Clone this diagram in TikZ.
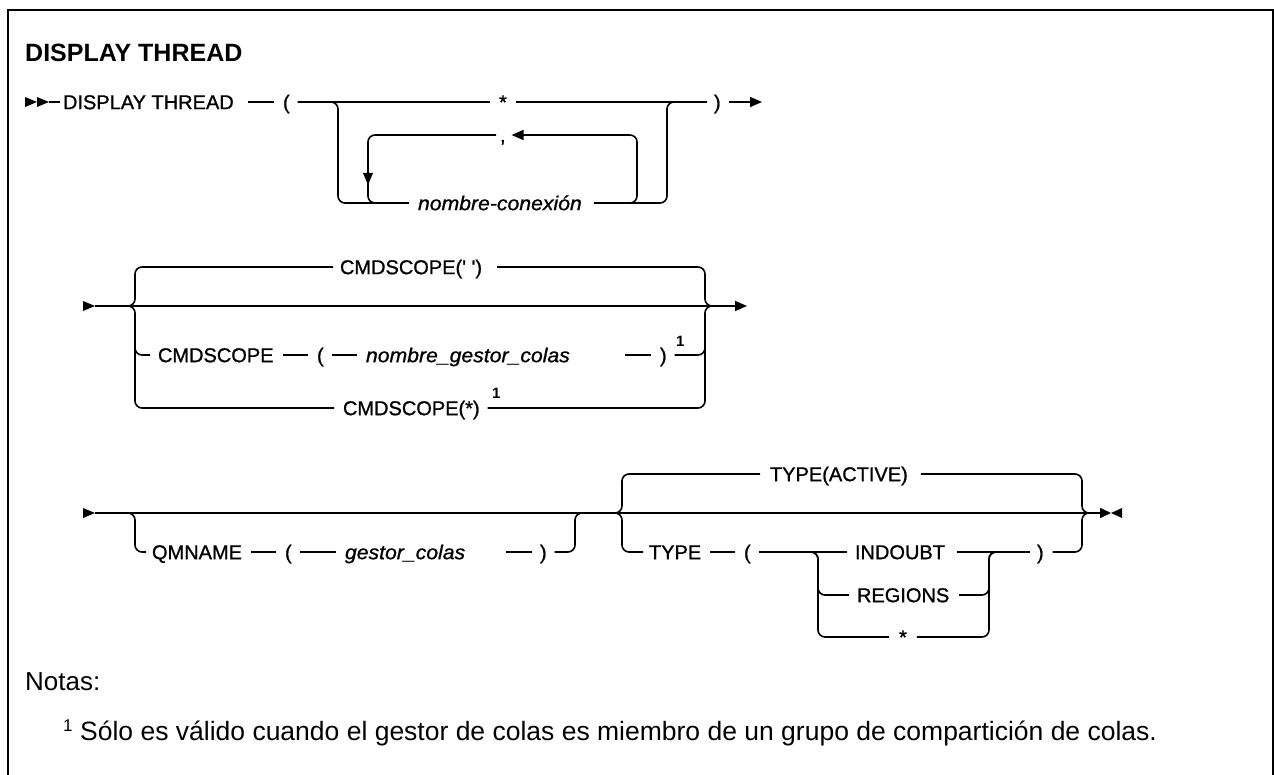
\documentclass[tikz,border=0pt]{standalone}
\usepackage{fontspec}
\setmainfont{Liberation Sans}
\newfontfamily\diafont[FakeBold=1.0]{Liberation Sans}
\newfontfamily\varfont[FakeBold=1.0,FakeStretch=1.06]{Liberation Sans}
\usetikzlibrary{arrows.meta}
\tikzset{
 ln/.style={line width=1.6pt, rounded corners=7pt},
 t/.style={inner sep=0pt, outer sep=0pt, anchor=west, text height=14.3pt, text depth=0pt, font=\fontsize{20}{24}\selectfont\diafont},
 v/.style={t, font=\fontsize{20}{24}\selectfont\varfont\itshape},
 sp/.style={inner sep=0pt, outer sep=0pt, anchor=west, text height=10.7pt, text depth=0pt, font=\fontsize{15}{18}\selectfont\bfseries},
 tip/.style={-{Triangle[length=12pt,width=10pt]}},
}
\begin{document}
\begin{tikzpicture}[x=1pt,y=-1pt]
\clip (0,0) rectangle (1274,775);
\draw[line width=2.2pt] (8,10) rectangle (1273,800);
\node[anchor=base west, inner sep=0pt, font=\fontsize{25}{30}\selectfont\bfseries] (title) at (25,62) {DISPLAY THREAD};

% ---------- row 1
\coordinate (s1) at (49,102);
\fill (25,97) -- (37,102) -- (25,107) -- cycle;
\fill (37,97) -- (49,102) -- (37,107) -- cycle;
\node[t] (dt) at (63,102) {DISPLAY THREAD};
\node[t] (lp1) at (283,102) {(};
\node[t, anchor=center] (st1) at (503,102) {*};
\node[t] (rp1) at (714,102) {)};
\coordinate (e1) at (762,102);
\node[v] (nc) at (418,203) {nombre-conexión};
\node[t] (cm) at (500,135) {,};
\draw[ln] (s1) -- ([xshift=-3pt]dt.west);
\draw[ln] ([xshift=14pt]dt.east) -- ([xshift=-9pt]lp1.west);
\draw[ln] ([xshift=8pt]lp1.east) -- ([xshift=-9pt]st1.west);
\draw[ln] ([xshift=9pt]st1.east) -- ([xshift=-7pt]rp1.west);
\draw[ln,tip] ([xshift=8pt]rp1.east) -- (e1);
\draw[ln] ([xshift=8pt]lp1.east) -| (338,203) -- ([xshift=-9pt]nc.west);
\draw[ln] ([xshift=12pt]nc.east) -| (667,102) -- ([xshift=-7pt]rp1.west);
\draw[ln] (395,203) -| (368,135) -- ([xshift=-4pt]cm.west);
\draw[ln,{Triangle[length=12pt,width=10pt]}-] ([xshift=6pt]cm.east) -| (637,203) -- (615,203);
\fill (363,173) -- (373,173) -- (368,185) -- cycle;

% ---------- row 2
\coordinate (s2) at (95,306);
\coordinate (e2) at (747,306);
\fill (83,301) -- (95,306) -- (83,311) -- cycle;
\draw[ln,tip] (s2) -- (e2);
\node[t] (cs1) at (340,267) {CMDSCOPE(\textquotesingle\ \textquotesingle)};
\node[t] (cs2) at (158,355) {CMDSCOPE};
\node[t] (lp2) at (317,355) {(};
\node[v] (ngc) at (366,355) {nombre\_gestor\_colas};
\node[t] (rp2) at (660,355) {)};
\node[sp] (n2) at (676,341) {1};
\node[t] (cs3) at (343,408) {CMDSCOPE(*)};
\node[sp] (n3) at (492,393) {1};
\draw[ln] (115,306) -| (135,267) -- ([xshift=-7pt]cs1.west);
\draw[ln] (115,306) -| (135,408) -- ([xshift=-9pt]cs3.west);
\draw[ln] (135,330) |- ([xshift=-8pt]cs2.west);
\draw[ln] ([xshift=9pt]cs2.east) -- ([xshift=-9pt]lp2.west);
\draw[ln] ([xshift=8pt]lp2.east) -- ([xshift=-9pt]ngc.west);
\draw[ln] ([xshift=-35pt]rp2.west) -- ([xshift=-9pt]rp2.west);
\draw[ln] ([xshift=8pt]rp2.east) -| (705,330);
\draw[ln] ([xshift=15pt]cs1.east) -| (705,306) -- (725,306);
\draw[ln] ([xshift=8pt]cs3.east) -| (705,306) -- (725,306);

% ---------- row 3
\coordinate (s3) at (95,513);
\coordinate (e3) at (1111,513);
\fill (83,508) -- (95,513) -- (83,518) -- cycle;
\draw[ln,-{Triangle[length=11pt,width=10pt]}] (s3) -- (e3);
\fill (1122,508) -- (1111,513) -- (1122,518) -- cycle;
\node[t] (qm) at (152,552) {QMNAME};
\node[t] (lp3) at (285,552) {(};
\node[v] (gc) at (345,552) {gestor\_colas};
\node[t] (rp3) at (540,552) {)};
\draw[ln] (115,513) -| (135,552) -- ([xshift=-6pt]qm.west);
\draw[ln] ([xshift=9pt]qm.east) -- ([xshift=-9pt]lp3.west);
\draw[ln] ([xshift=8pt]lp3.east) -- ([xshift=-9pt]gc.west);
\draw[ln] ([xshift=-34pt]rp3.west) -- ([xshift=-8pt]rp3.west);
\draw[ln] ([xshift=8pt]rp3.east) -| (575,513) -- (595,513);

\node[t] (ta) at (770,474) {TYPE(ACTIVE)};
\node[t] (ty) at (649,552) {TYPE};
\node[t] (lp4) at (744,552) {(};
\node[t] (ind) at (855,552) {INDOUBT};
\node[t] (rg) at (857,595) {REGIONS};
\node[t, anchor=center] (st2) at (903,637) {*};
\node[t] (rp4) at (1037,552) {)};
\draw[ln] (600,513) -| (622,474) -- ([xshift=-10pt]ta.west);
\draw[ln] ([xshift=13pt]ta.east) -| (1082,513) -- (1100,513);
\draw[ln] (600,513) -| (622,552) -- ([xshift=-6pt]ty.west);
\draw[ln] ([xshift=9pt]ty.east) -- ([xshift=-9pt]lp4.west);
\draw[ln] ([xshift=8pt]lp4.east) -- ([xshift=-8pt]ind.west);
\draw[ln] ([xshift=12pt]ind.east) -- ([xshift=-7pt]rp4.west);
\draw[ln] ([xshift=9pt]rp4.east) -| (1082,513) -- (1100,513);
\draw[ln] (800,552) -| (818,595) -- ([xshift=-8pt]rg.west);
\draw[ln] (800,552) -| (818,637) -- ([xshift=-10pt]st2.west);
\draw[ln] ([xshift=10pt]rg.east) -| (989,552) -- (1005,552);
\draw[ln] ([xshift=10pt]st2.east) -| (989,552) -- (1005,552);

% ---------- notes
\node[anchor=base west, inner sep=0pt, font=\fontsize{26}{30}\selectfont] (notas) at (25,690) {Notas:};
\node[anchor=base west, inner sep=0pt, font=\fontsize{17}{20}\selectfont] (fn1) at (63,731) {1};
\node[anchor=base west, inner sep=0pt, font=\fontsize{26.5}{30}\selectfont] (fn) at (80,740) {Sólo es válido cuando el gestor de colas es miembro de un grupo de compartición de colas.};
\end{tikzpicture}
\end{document}
